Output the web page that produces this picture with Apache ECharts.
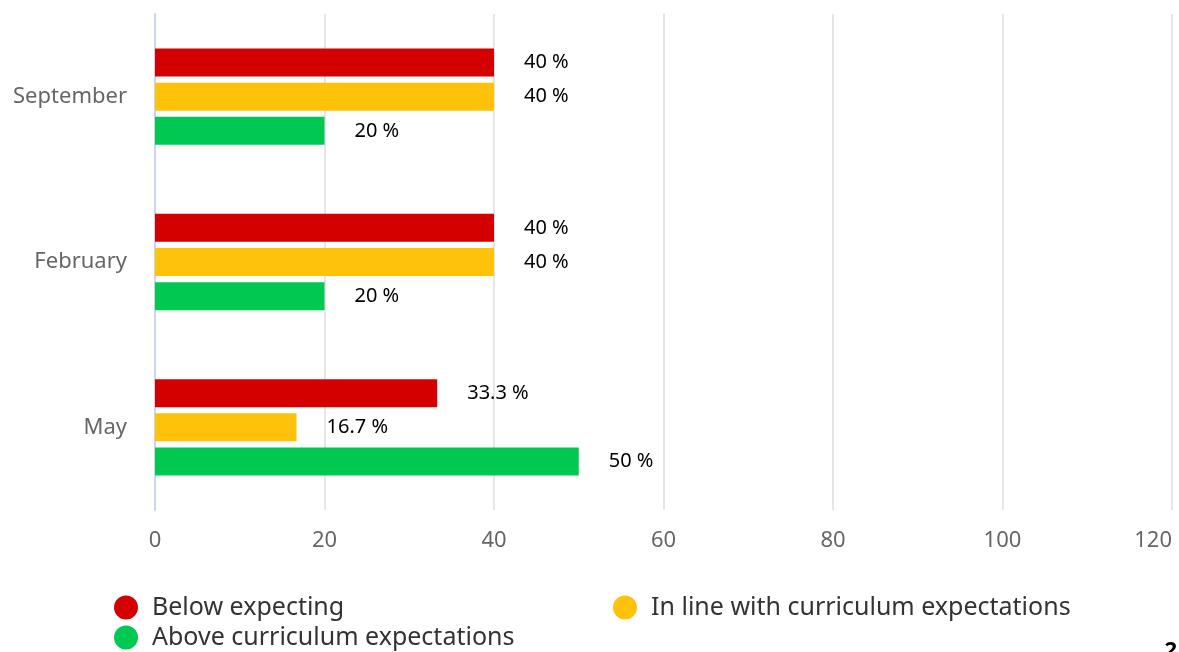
<!DOCTYPE html>
<html><head><meta charset="utf-8">
<script src="https://cdn.jsdelivr.net/npm/echarts@6/dist/echarts.min.js"></script>
<style>html,body{margin:0;padding:0;background:#fff}#c{width:1179px;height:652px}</style>
</head><body><div id="c"></div>
<script>
const categories = ['September', 'February', 'May'];
const seriesNames = ['Below expecting', 'In line with curriculum expectations', 'Above curriculum expectations'];
const belowValues = [40, 40, 33.3];
const inLineValues = [40, 40, 16.7];
const aboveValues = [20, 20, 50];
const xTicks = [0, 20, 40, 60, 80, 100, 120];
const colors = ['#d40000', '#ffc20a', '#00c851'];
const FONT = '"Noto Sans", "DejaVu Sans", sans-serif';

const chart = echarts.init(document.getElementById('c'));
const allValues = [belowValues, inLineValues, aboveValues];
const legendPos = [[114, 595], [613, 595], [114, 625]];
const legends = seriesNames.map((name, i) => ({
  id: 'lg' + i, data: [name], left: legendPos[i][0], top: legendPos[i][1], padding: 0,
  icon: 'circle', itemWidth: 24, itemHeight: 24,
  textStyle: { fontSize: 25, color: '#333', fontFamily: FONT, padding: [0, 0, 0, 9] }
}));
chart.setOption({
  animation: false,
  textStyle: { fontFamily: FONT },
  grid: { left: 155, right: 7, top: 14, bottom: 142, containLabel: false, outerBoundsMode: 'none' },
  xAxis: {
    type: 'value', min: xTicks[0], max: xTicks[xTicks.length - 1], interval: 20,
    axisLine: { show: false }, axisTick: { show: false },
    splitLine: { lineStyle: { color: '#e6e6e6', width: 2 } },
    axisLabel: { color: '#666', fontSize: 22, margin: 20, fontFamily: FONT, alignMaxLabel: 'right' }
  },
  yAxis: {
    type: 'category', data: categories, inverse: true,
    axisLine: { lineStyle: { color: '#ccd6eb', width: 2 } },
    axisTick: { show: false },
    axisLabel: { color: '#666', fontSize: 22, margin: 28, fontFamily: FONT }
  },
  legend: legends,
  graphic: [{ type: 'text', right: 2, top: 640, style: { text: '2', font: 'bold 22px ' + FONT, fill: '#000' } }],
  series: seriesNames.map((name, i) => ({
    name, type: 'bar', data: allValues[i], barWidth: 28, barGap: '22%',
    itemStyle: { color: colors[i] },
    label: { show: true, position: 'right', distance: 30, formatter: '{c} %', color: '#000', fontSize: 20, fontFamily: FONT }
  }))
});
</script></body></html>
